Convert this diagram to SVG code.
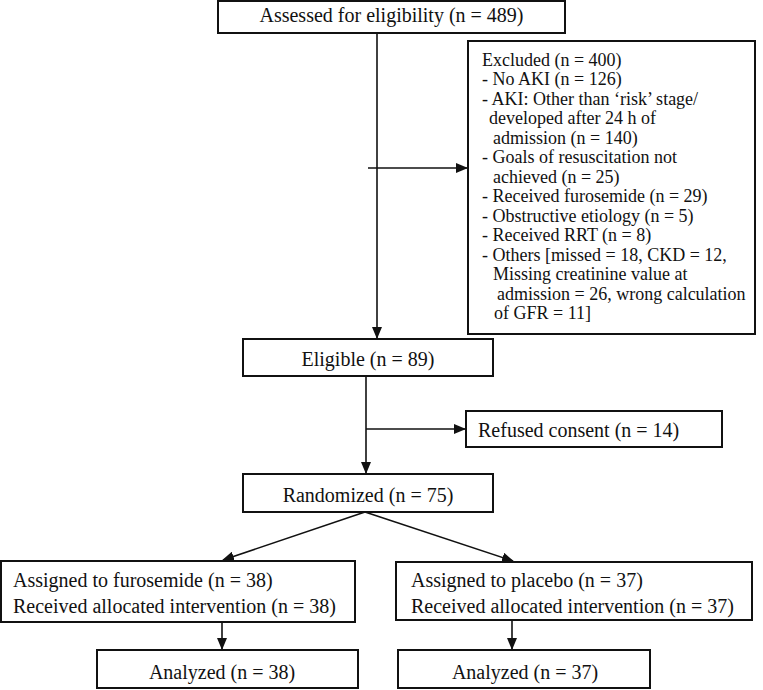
<svg xmlns="http://www.w3.org/2000/svg" width="763" height="690" viewBox="0 0 763 690">
<defs>
<style>
.box{fill:#fff;stroke:#111;stroke-width:2}
.t{font-family:"Liberation Serif","Times New Roman",serif;font-size:20px;fill:#111}
.s{font-family:"Liberation Serif","Times New Roman",serif;font-size:18px;fill:#111}
.c{stroke:#111;stroke-width:1.6;fill:none}
</style>
<marker id="ah" markerUnits="userSpaceOnUse" markerWidth="12" markerHeight="10" refX="11" refY="5" orient="auto">
<path d="M0,0 L12,5 L0,10 Z" fill="#111"/>
</marker>
</defs>
<rect width="763" height="690" fill="#fff"/>
<g id="connectors">
<line class="c" x1="377" y1="33" x2="377" y2="338" marker-end="url(#ah)"/>
<line class="c" x1="368" y1="168" x2="467" y2="168" marker-end="url(#ah)"/>
<line class="c" x1="366" y1="376" x2="366" y2="473" marker-end="url(#ah)"/>
<line class="c" x1="366" y1="429" x2="465" y2="429" marker-end="url(#ah)"/>
<line class="c" x1="365" y1="512" x2="223" y2="560" marker-end="url(#ah)"/>
<line class="c" x1="365" y1="512" x2="513" y2="561" marker-end="url(#ah)"/>
<line class="c" x1="222" y1="622" x2="222" y2="649" marker-end="url(#ah)"/>
<line class="c" x1="512" y1="620" x2="512" y2="649" marker-end="url(#ah)"/>
</g>
<g id="assessed">
<rect class="box" x="218" y="1" width="347" height="32"/>
<text class="t" x="391.5" y="22" text-anchor="middle">Assessed for eligibility (n = 489)</text>
</g>
<g id="excluded">
<rect class="box" x="468" y="41" width="287" height="293"/>
<text class="s" x="482" y="65.5">Excluded (n = 400)</text>
<text class="s" x="482" y="85">- No AKI (n = 126)</text>
<text class="s" x="482" y="104.5">- AKI: Other than ‘risk’ stage/</text>
<text class="s" x="489" y="124">developed after 24 h of</text>
<text class="s" x="493" y="143.5">admission (n = 140)</text>
<text class="s" x="482" y="163">- Goals of resuscitation not</text>
<text class="s" x="493" y="182.5">achieved (n = 25)</text>
<text class="s" x="482" y="202">- Received furosemide (n = 29)</text>
<text class="s" x="482" y="221.5">- Obstructive etiology (n = 5)</text>
<text class="s" x="482" y="241">- Received RRT (n = 8)</text>
<text class="s" x="482" y="260.5">- Others [missed = 18, CKD = 12,</text>
<text class="s" x="493" y="280">Missing creatinine value at</text>
<text class="s" x="497" y="299.5">admission = 26, wrong calculation</text>
<text class="s" x="494" y="319">of GFR = 11]</text>
</g>
<g id="eligible">
<rect class="box" x="243" y="339" width="250" height="37"/>
<text class="t" x="368" y="366" text-anchor="middle">Eligible (n = 89)</text>
</g>
<g id="refused">
<rect class="box" x="466" y="411" width="256" height="36"/>
<text class="t" x="478" y="437">Refused consent (n = 14)</text>
</g>
<g id="randomized">
<rect class="box" x="243" y="474" width="250" height="38"/>
<text class="t" x="368" y="502" text-anchor="middle">Randomized (n = 75)</text>
</g>
<g id="furosemide">
<rect class="box" x="1" y="561" width="354" height="61"/>
<text class="t" x="13" y="587">Assigned to furosemide (n = 38)</text>
<text class="t" x="13" y="613">Received allocated intervention (n = 38)</text>
</g>
<g id="placebo">
<rect class="box" x="396" y="562" width="356" height="58"/>
<text class="t" x="411" y="587">Assigned to placebo (n = 37)</text>
<text class="t" x="411" y="613">Received allocated intervention (n = 37)</text>
</g>
<g id="analyzed-furosemide">
<rect class="box" x="97" y="650" width="261" height="38"/>
<text class="t" x="222" y="679" text-anchor="middle">Analyzed (n = 38)</text>
</g>
<g id="analyzed-placebo">
<rect class="box" x="398" y="650" width="252" height="38"/>
<text class="t" x="525" y="679" text-anchor="middle">Analyzed (n = 37)</text>
</g>
</svg>
